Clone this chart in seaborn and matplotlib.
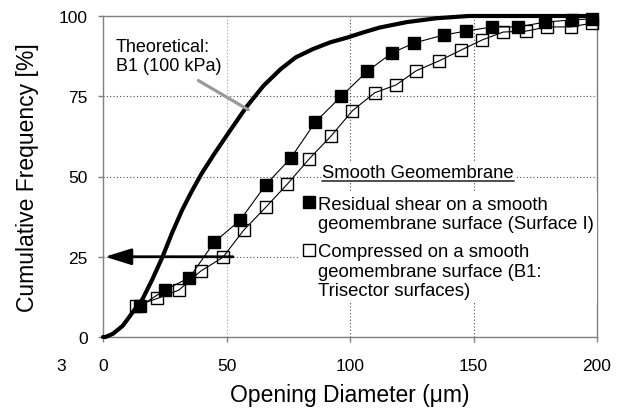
import matplotlib
matplotlib.use("Agg")
import matplotlib.pyplot as plt
from matplotlib.lines import Line2D
import seaborn as sns
import pandas as pd

# ---- data -------------------------------------------------------------
theory_x = [0, 1, 4, 8, 12, 16, 20, 24, 28, 32, 36, 40, 45, 51, 58, 65, 72,
            78, 85, 92, 99, 105, 112, 123, 135, 148, 200]
theory_y = [0, 0, 1, 3.5, 7.7, 11.8, 18, 24.8, 32.5, 39.5, 45.5, 51, 57,
            63.8, 71.6, 78.3, 83.5, 87.1, 89.7, 91.8, 93.3, 94.8, 96.4, 98.1,
            99.3, 100, 100]

residual_x = [15, 25, 35, 45, 55.5, 66, 76, 86, 96.5, 107, 117, 126, 138, 147,
              157.5, 168, 179, 190, 198]
residual_y = [9.6, 14.6, 18.5, 29.5, 36.4, 47.5, 55.7, 67, 75, 82.8, 88.5,
              91.6, 94.1, 95.3, 96.6, 96.6, 98.1, 98.8, 99.1]

compressed_x = [13.5, 22, 30.7, 39.5, 48.5, 57, 66, 74.6, 83.5, 92.2, 101, 110,
                118.6, 126.7, 136, 145, 153.4, 162, 171.3, 179.8, 189.5, 198]
compressed_y = [9.8, 12, 14.6, 20.5, 24.8, 33.3, 40.5, 47.6, 55.5, 62.5, 70.5,
                76.1, 78.5, 82.9, 86, 89.4, 92.5, 95, 95.3, 96.6, 96.6, 97.8]

x_ticks = [0, 50, 100, 150, 200]
y_ticks = [0, 25, 50, 75, 100]

legend_title = "Smooth Geomembrane"
label_residual = "Residual shear on a smooth\ngeomembrane surface (Surface I)"
label_compressed = "Compressed on a smooth\ngeomembrane surface (B1:\nTrisector surfaces)"
theory_label = "Theoretical:\nB1 (100 kPa)"

# ---- style ------------------------------------------------------------
sns.set_style("white")
plt.rcParams["font.family"] = ["Liberation Sans", "DejaVu Sans"]
plt.rcParams["text.color"] = "black"
plt.rcParams["axes.labelcolor"] = "black"

W, H = 618, 414
fig = plt.figure(figsize=(W / 100, H / 100), dpi=100)
ax = fig.add_axes([103 / W, 76 / H, 494 / W, 321 / H])

df_t = pd.DataFrame({"x": theory_x, "y": theory_y})
df_r = pd.DataFrame({"x": residual_x, "y": residual_y})
df_c = pd.DataFrame({"x": compressed_x, "y": compressed_y})

sns.lineplot(data=df_t, x="x", y="y", ax=ax, color="black", linewidth=3.0,
             sort=False, estimator=None, zorder=3, clip_on=False)
sns.lineplot(data=df_c, x="x", y="y", ax=ax, color="black", linewidth=0.8,
             sort=False, estimator=None, marker="s", markersize=8.5,
             markerfacecolor="none", markeredgecolor="black",
             markeredgewidth=1.0, zorder=4, clip_on=False)
sns.lineplot(data=df_r, x="x", y="y", ax=ax, color="black", linewidth=0.8,
             sort=False, estimator=None, marker="s", markersize=8.5,
             markerfacecolor="black", markeredgecolor="black",
             markeredgewidth=1.0, zorder=4, clip_on=False)

ax.set_xlim(0, 200)
ax.set_ylim(0, 100)
ax.set_xticks(x_ticks)
ax.set_yticks(y_ticks)
ax.set_xticklabels([str(v) for v in x_ticks])
ax.set_yticklabels([str(v) for v in y_ticks])

for s in ax.spines.values():
    s.set_color("#808080")
    s.set_linewidth(1.0)

ax.tick_params(axis="both", which="major", direction="out", length=3.5,
               width=1.0, color="#808080", labelsize=12.5, labelcolor="black",
               left=True, bottom=True)
ax.tick_params(axis="x", pad=11.5)
ax.tick_params(axis="y", pad=7.5)

ax.grid(True, color="#505050", linestyle=(0, (1, 2)), linewidth=0.8)
ax.set_axisbelow(True)
xgl = ax.get_xgridlines()
xgl[1].set_color("#a0a0a0")
ax.get_ygridlines()[-1].set_visible(False)
xgl[0].set_visible(False)
xgl[-1].set_visible(False)

ax.set_xlabel("Opening Diameter (\u03bcm)", fontsize=16.5, labelpad=7)
ax.set_ylabel("Cumulative Frequency [%]", fontsize=16.5, labelpad=14)

# theoretical annotation
ax.text(5.3, 93.3, theory_label, fontsize=13, ha="left", va="top")
ax.annotate("", xy=(58.8, 70.8), xytext=(38.6, 79.9),
            arrowprops=dict(arrowstyle="-", color="#999999", lw=2.3,
                            shrinkA=0, shrinkB=0), zorder=5)

# horizontal arrow at 25 %
ax.annotate("", xy=(0.8, 25), xytext=(52.6, 25),
            arrowprops=dict(arrowstyle="-|>,head_length=1.6,head_width=0.5",
                            mutation_scale=10, lw=2.0, color="black",
                            shrinkA=0, shrinkB=0), zorder=6)

# legend
handles = [
    Line2D([], [], marker="s", linestyle="none", markersize=8.5,
           markerfacecolor="black", markeredgecolor="black"),
    Line2D([], [], marker="s", linestyle="none", markersize=8.5,
           markerfacecolor="white", markeredgecolor="black"),
]
leg = ax.legend(handles, [label_residual, label_compressed], loc="upper left",
                bbox_to_anchor=(79.1, 45.2), bbox_transform=ax.transData,
                borderaxespad=0, borderpad=0.2, handlelength=0.7,
                handletextpad=0.15, labelspacing=0.6, fontsize=13.3,
                frameon=True, fancybox=False, framealpha=1.0)
leg.get_frame().set_facecolor("white")
leg.get_frame().set_edgecolor("none")
leg.set_zorder(7)
for col in leg._legend_handle_box.get_children():
    for item in col.get_children():
        item.align = "top"

t = ax.text(88.7, 49.8, legend_title, fontsize=13.3, ha="left", va="baseline",
            bbox=dict(facecolor="white", edgecolor="none", pad=1.0), zorder=8)

fig.text(61 / W, 1 - 366.5 / H, "3", fontsize=12.5, ha="center", va="center")

fig.canvas.draw()
bb = t.get_window_extent()
uy = bb.y0 + 0.5
fig.add_artist(Line2D([bb.x0 / W, bb.x1 / W], [uy / H, uy / H],
                      transform=fig.transFigure, color="#404040", lw=1.3,
                      zorder=9))

fig.savefig("out.png", dpi=100)
